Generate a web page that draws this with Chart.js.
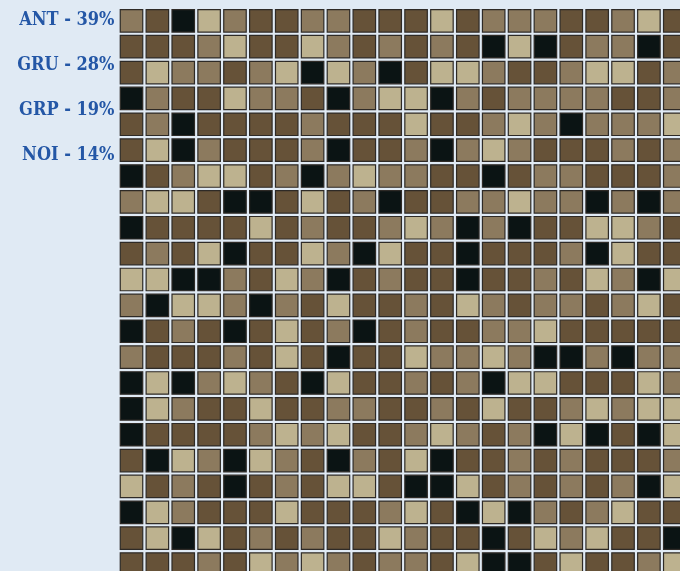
<!DOCTYPE html>
<html>
<head>
<meta charset="utf-8">
<script src="https://cdn.jsdelivr.net/npm/chart.js@4"></script>
<style>
  html, body { margin: 0; padding: 0; background: #e0eaf4; }
  #wrap { width: 680px; height: 571px; position: relative; overflow: hidden; }
</style>
</head>
<body>
<div id="wrap"><canvas id="myChart"></canvas></div>
<script>
// categories, their shares and cell colours
const categories = ['ANT', 'GRU', 'GRP', 'NOI'];
const shares = [39, 28, 19, 14];
const codes = ['D', 'M', 'L', 'K'];
const colors = ['#665238', '#8c7a5e', '#bdb28f', '#0b1414'];

// the waffle grid, one string per row (D = ANT, M = GRU, L = GRP, K = NOI)
const gridRows = [
  'MDKLMDDMMDDDLDMMMDDMLD',
  'DDDMLDDLMDMDMDKLKDMMKD',
  'DLMMDMLKLMKDLLMDDMLLDM',
  'KMDDLMMDKMLLKMDMMMMDDM',
  'DMKDDDDMDDDLDDMLMKMMML',
  'DLKMDDDMKDDMKMLMDDDMDM',
  'KDMLLDMKMLMMDDKDMMDDDM',
  'MLLDKKDLDMKDDMMLMMKMKM',
  'KDDDDLDMDDMLMKMKDDLLMD',
  'DMDLKDDLMKLDDKDDDMKLDD',
  'LLKKMDLMKDMDDKDDMDLMKL',
  'MKLLMKMDLDDMDLMDMMDMLD',
  'KDMDKDLDMKDMDDMMLDDDDD',
  'MDDDMDLDKDDLMMLMKKMKMM',
  'KLKMLMDKLDDMDMKLLDDDLM',
  'KLMDDLDDMMDDMDLDDMLMLL',
  'KDDDDMLMLDDMLMDMKLKDKL',
  'DKLMKLMDKMDLKDDMDMDDDM',
  'LDMDKDMDLLDKKLDMDMDMKL',
  'KLMDDDLDDDMLDKLKMDMLDD',
  'DLKLDMDMDDLMDDKDLMLDDK',
  'DDDMDLMLMDMMDLKKDLDDML'
];

// turn the grid into one point list per category
const datasets = categories.map((name, k) => {
    let pts = [];
    gridRows.forEach((row, r) => {
        row.split('').forEach((ch, c) => {
            if (ch === codes[k]) pts.push({ x: c, y: r });
        });
    });
    return {
        label: name + ' - ' + shares[k] + '%',
        data: pts,
        pointStyle: 'rect',
        pointRadius: 15.9,
        pointBackgroundColor: colors[k],
        pointBorderColor: '#2e2a26',
        pointBorderWidth: 1.2,
        showLine: false
    };
});

// labels down the left side
const labelPlugin = {
    id: 'sideLabels',
    afterDraw(chart) {
        const ctx = chart.ctx;
        ctx.save();
        ctx.font = 'bold 18px "DejaVu Serif Condensed", "DejaVu Serif", serif';
        ctx.fillStyle = '#2457a6';
        ctx.textAlign = 'right';
        ctx.textBaseline = 'alphabetic';
        chart.data.datasets.forEach((ds, k) => {
            ctx.fillText(ds.label, 114.5, 25 + k * 45.1);
        });
        ctx.restore();
    }
};

const pitch = 25.87;
const config = {
    type: 'scatter',
    data: { datasets: datasets },
    options: {
        responsive: true,
        maintainAspectRatio: false,
        animation: false,
        events: [],
        layout: { padding: 0, autoPadding: false },
        plugins: { legend: { display: false }, tooltip: { enabled: false } },
        scales: {
            x: { type: 'linear', display: false, min: -131.5 / pitch, max: -131.5 / pitch + 680 / pitch },
            y: { type: 'linear', display: false, reverse: true, min: -20.8 / pitch, max: -20.8 / pitch + 571 / pitch }
        }
    },
    plugins: [labelPlugin]
};

const myChart = new Chart(document.getElementById('myChart'), config);
</script>
</body>
</html>
